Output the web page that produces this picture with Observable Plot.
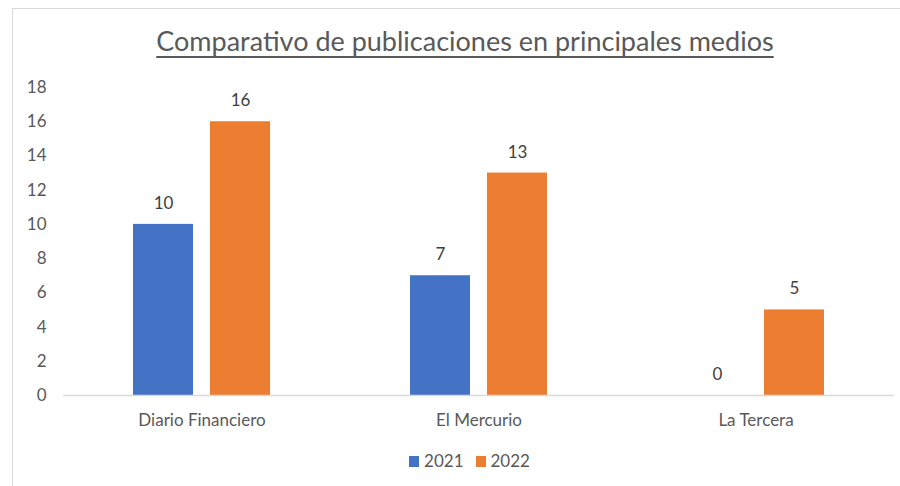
<!DOCTYPE html>
<html><head><meta charset="utf-8">
<script src="https://cdn.jsdelivr.net/npm/d3@7"></script>
<script src="https://cdn.jsdelivr.net/npm/@observablehq/plot@0.6"></script>
<style>
body{margin:0;background:#fff;}
#wrap{position:relative;width:900px;height:486px;overflow:hidden;font-family:Lato,"Open Sans",sans-serif;color:#595959;}
#frame{position:absolute;left:12px;top:8px;width:950px;height:520px;border:1px solid #D9D9D9;box-sizing:border-box;}
#title{position:absolute;left:0;width:930px;top:24px;text-align:center;font-size:27px;text-decoration:underline;text-underline-offset:5px;text-decoration-thickness:1.5px;}
#chart{position:absolute;left:0;top:70px;}
#legend{position:absolute;left:0;width:927px;top:450px;text-align:center;font-size:17px;}
#legend span.sw{display:inline-block;width:10px;height:11px;margin:0 5px 0 12px;vertical-align:0px;}
</style></head>
<body><div id="wrap"><div id="frame"></div>
<div id="title">Comparativo de publicaciones en principales medios</div>
<div id="chart"></div>
<div id="legend"></div></div>
<script>
const categories = ["Diario Financiero", "El Mercurio", "La Tercera"];
const years = ["2021", "2022"];
const values2021 = [10, 7, 0];
const values2022 = [16, 13, 5];
const yTicks = [0, 2, 4, 6, 8, 10, 12, 14, 16, 18];
const colors = ["#4472C4", "#ED7D31"];

const data = [];
categories.forEach((c, i) => {
  data.push({cat: c, year: years[0], v: values2021[i]});
  data.push({cat: c, year: years[1], v: values2022[i]});
});

const plot = Plot.plot({
  width: 900, height: 360,
  marginLeft: 62, marginRight: 5, marginTop: 17, marginBottom: 35,
  style: {fontFamily: "Lato, 'Open Sans', sans-serif", fontSize: "17px", color: "#595959", background: "transparent"},
  fx: {domain: categories, padding: 0, label: null},
  x: {domain: years, paddingInner: 0.218, paddingOuter: 0.891, axis: null},
  y: {domain: [0, 18], label: null},
  color: {domain: years, range: colors},
  marks: [
    Plot.axisFx({anchor: "bottom", tickSize: 0, tickPadding: 18, fontSize: 17, label: null}),
    Plot.axisY(yTicks, {tickSize: 0, tickPadding: 17, fontSize: 17, label: null}),
    Plot.barY(data, {fx: "cat", x: "year", y: "v", fill: "year"}),
    Plot.ruleY([0], {stroke: "#D9D9D9", strokeWidth: 1.5}),
    Plot.text(data, {fx: "cat", x: "year", y: "v", text: d => String(d.v), dy: -21, fill: "#404040", fontSize: 17})
  ]
});
document.getElementById("chart").appendChild(plot);

const lg = document.getElementById("legend");
years.forEach((y, i) => {
  const s = document.createElement("span"); s.className = "sw"; s.style.background = colors[i];
  lg.appendChild(s);
  lg.appendChild(document.createTextNode(y));
});
</script></body></html>
